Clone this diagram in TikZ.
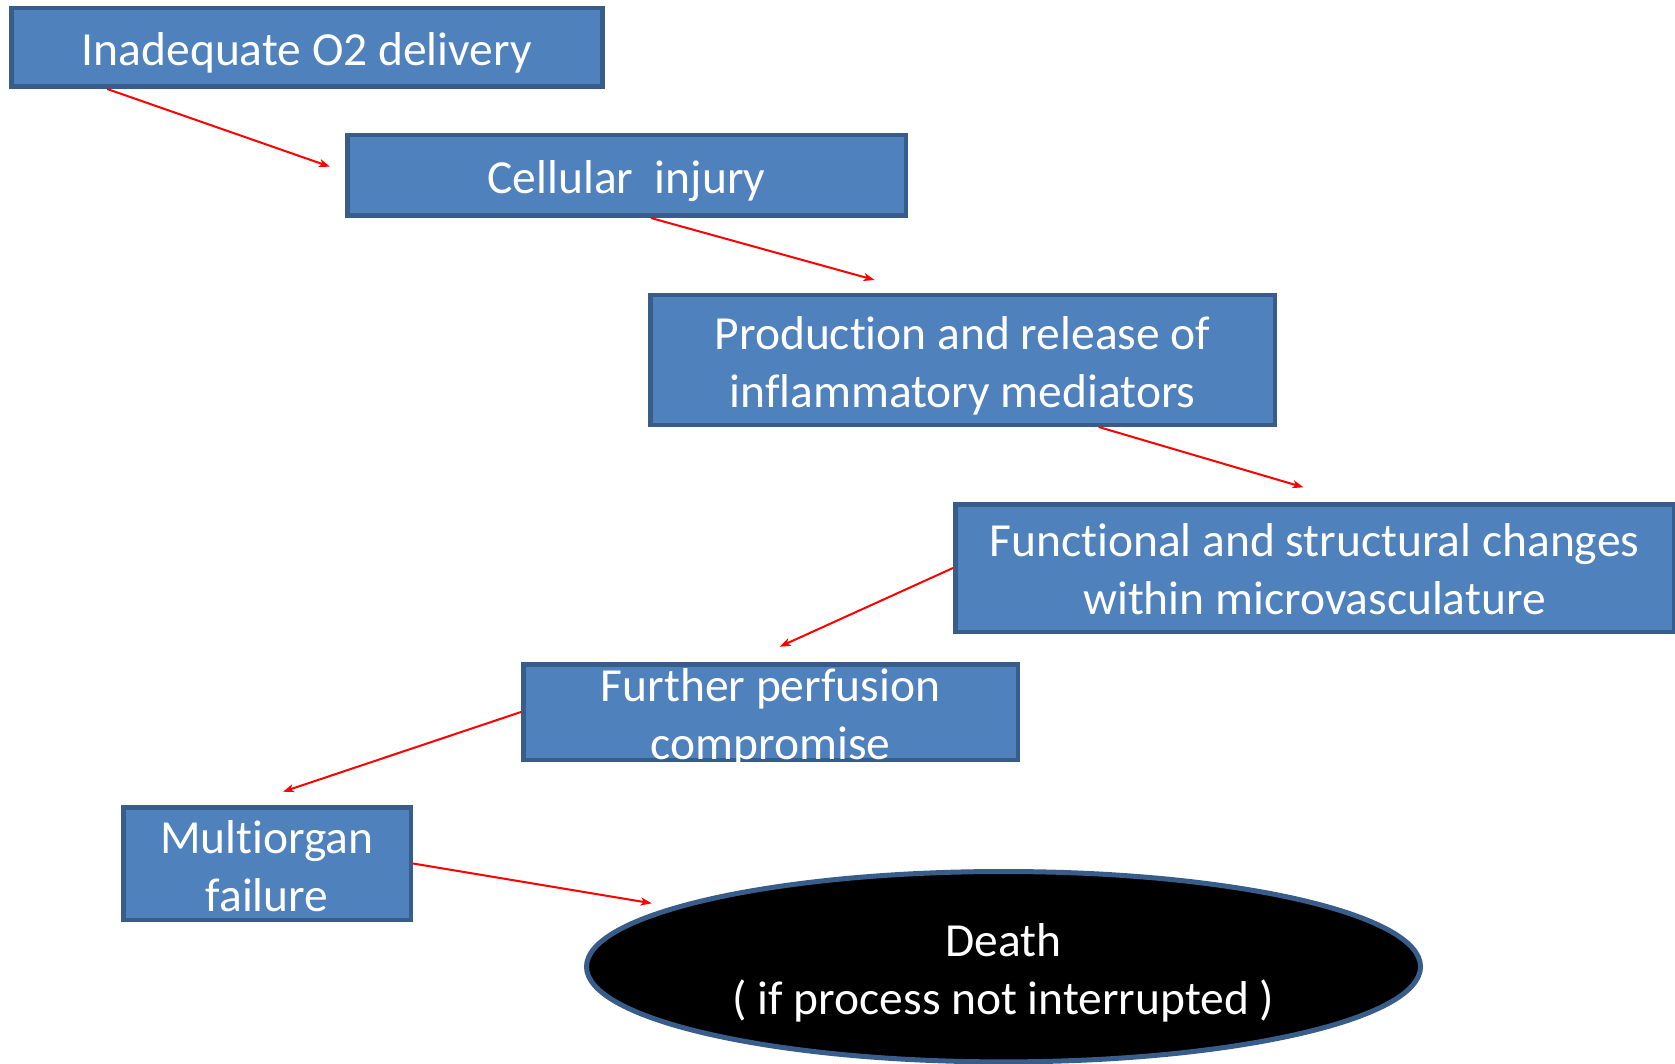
\documentclass[tikz,border=0pt]{standalone}
\usepackage{fontspec}
\setmainfont[Ligatures=NoCommon]{Carlito}
\usetikzlibrary{arrows.meta,calc,shapes.geometric}
\definecolor{boxfill}{RGB}{79,129,189}
\definecolor{boxline}{RGB}{56,93,138}
\definecolor{linkred}{RGB}{255,0,0}
\begin{document}
\begin{tikzpicture}[x=1pt,y=-1pt,
  stagebox/.style={draw=boxline,fill=boxfill,line width=4.5pt,rectangle,inner sep=0pt},
  stagelabel/.style={text=white,align=center,inner sep=0pt,font=\fontsize{47.5}{58}\selectfont},
  endstate/.style={draw=boxline,fill=black,line width=5pt,ellipse,inner sep=0pt},
  link/.style={draw=linkred,line width=2pt,-{Stealth[length=11pt,width=8pt,inset=3pt]}}]
\useasboundingbox (0,0) rectangle (1675,1064);

% stages of the cascade
\node[stagebox,minimum width=591pt,minimum height=78.5pt,
  label={[stagelabel,yshift=-5.5pt]center:{Inadequate O2 delivery}}] (b1) at (306.75,47.5) {};
\node[stagebox,minimum width=558.5pt,minimum height=80.5pt,
  label={[stagelabel,yshift=-5.5pt]center:{Cellular\ \ injury}}] (b2) at (626.5,175.5) {};
\node[stagebox,minimum width=624.5pt,minimum height=129.5pt,
  label={[stagelabel,yshift=-5.5pt]center:{Production and release of\\inflammatory mediators}}] (b3) at (962.5,360) {};
\node[stagebox,minimum width=718.5pt,minimum height=127.5pt,
  label={[stagelabel,yshift=-1.5pt]center:{Functional and structural changes\\within microvasculature}}] (b4) at (1314.5,568) {};
\node[stagebox,minimum width=494.5pt,minimum height=95.5pt,
  label={[stagelabel,yshift=-5.5pt]center:{Further perfusion\\compromise}}] (b5) at (770.5,712) {};
\node[stagebox,minimum width=287.5pt,minimum height=112.5pt,
  label={[stagelabel,yshift=-2.5pt]center:{Multiorgan\\failure}}] (b6) at (267,863.5) {};
\node[endstate,minimum width=834pt,minimum height=190.4pt,
  label={[stagelabel,yshift=-6pt]center:{Death\\( if process not interrupted )}}] (death) at (1003.5,966.7) {};

% arrow end points
\coordinate (e1) at (330,166.7);
\coordinate (e2) at (874.6,280);
\coordinate (e3) at (1303.5,487.3);
\coordinate (e4) at (779.6,646.7);
\coordinate (e5) at (283,791.7);
\coordinate (e6) at (651.8,903.3);

% connectors
\draw[link] ($(b1.south west)!0.165!(b1.south east)$) -- (e1);
\draw[link] ($(b2.south west)!0.5435!(b2.south east)$) -- (e2);
\draw[link] ($(b3.south west)!0.7166!(b3.south east)$) -- (e3);
\draw[link] (b4.west) -- (e4);
\draw[link] (b5.west) -- (e5);
\draw[link] (b6.east) -- (e6);
\end{tikzpicture}
\end{document}
